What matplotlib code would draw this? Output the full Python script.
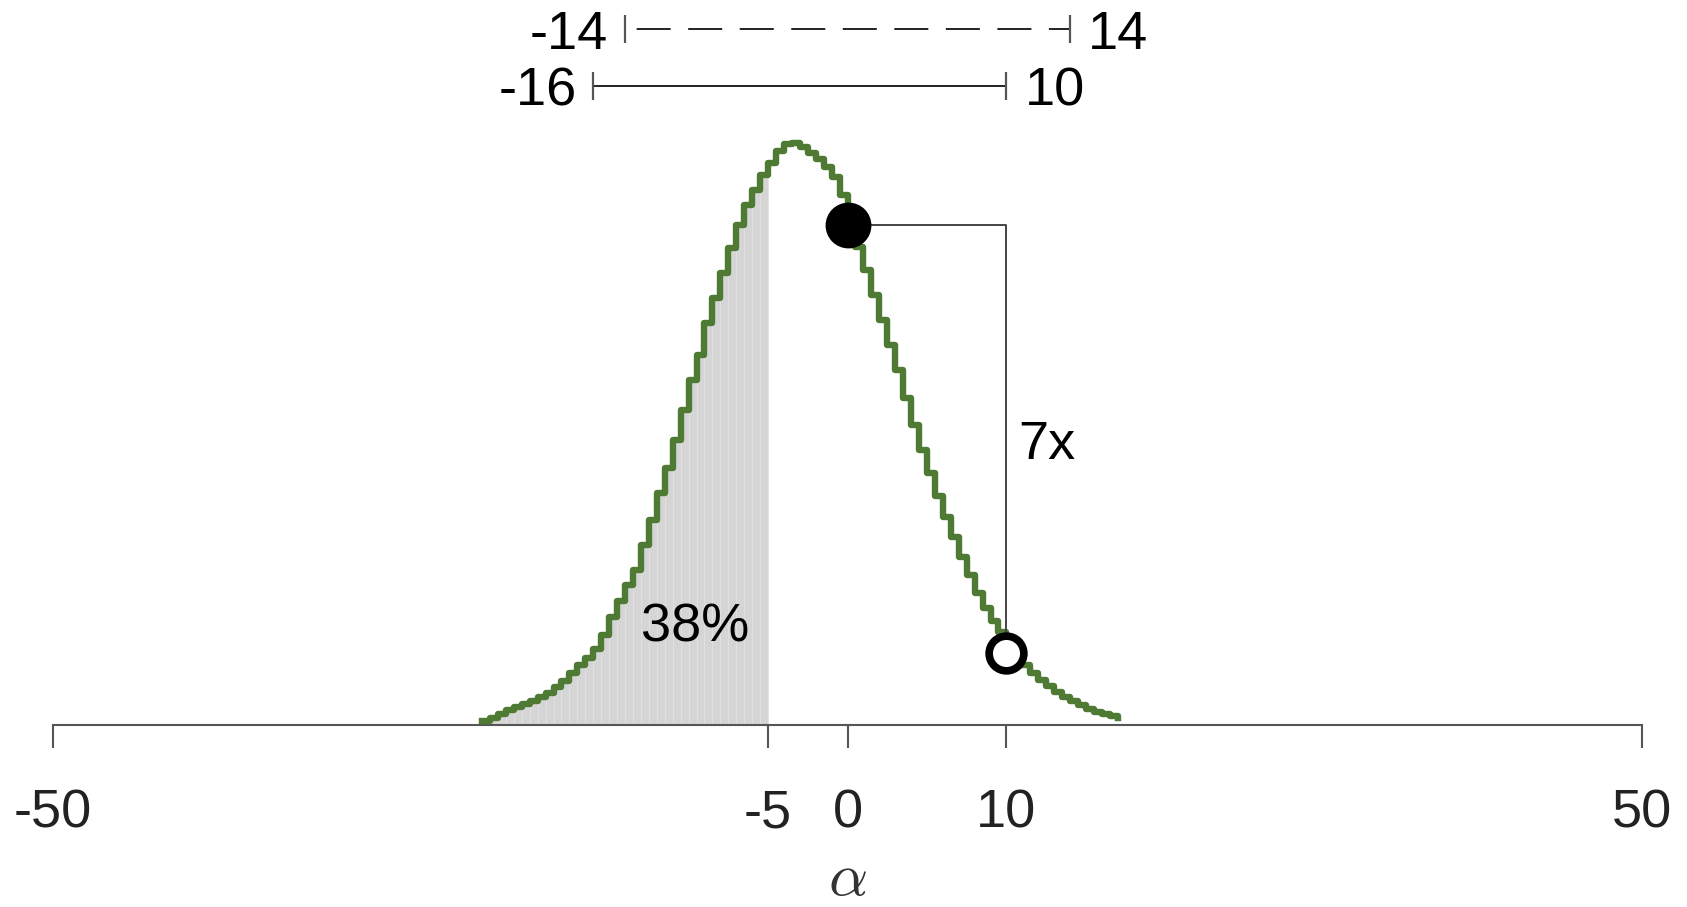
import numpy as np
import matplotlib.pyplot as plt

plt.rcParams['font.family'] = ['Liberation Sans', 'DejaVu Sans']
plt.rcParams['mathtext.fontset'] = 'cm'

# posterior of alpha, relative frequency per 0.5-wide bin (left edges)
bin_width = 0.5
bin_left = np.arange(-23, 17 + bin_width / 2, bin_width)
freq = np.array([
    4, 7, 11, 15, 18, 21, 24, 28, 32, 38,
    44, 52, 60, 67, 76, 90, 108, 124, 140, 155,
    180, 205, 232, 257, 285, 315, 345, 370, 402, 427,
    452, 477, 500, 520, 535, 550, 562, 574, 581, 582,
    578, 572, 566, 558, 548, 530, 500, 478, 455, 430,
    405, 380, 355, 327, 300, 275, 252, 229, 208, 188,
    168, 150, 132, 117, 104, 93, 80, 68, 60, 52,
    45, 39, 33, 28, 24, 20, 16, 13, 11, 9, 7,
], dtype=float)

cutoff = -5
# two reference points: alpha = 0 (filled) and alpha = 10 (open)
pt_x = [0, 10]
pt_freq = [500, 72]

# credible intervals shown above the curve
ci_dashed = (-14, 14)
ci_solid = (-16, 10)

xticks = [-50, -5, 0, 10, 50]

# turn frequencies into a density
scale = 1.0 / (freq.sum() * bin_width)
dens = freq * scale
pt_dens = [v * scale for v in pt_freq]

green = '#4f7a34'
shade = '#d5d5d5'
axis_col = '#555555'

fig = plt.figure(figsize=(16.87, 9.07), dpi=100)
ax = fig.add_axes([53 / 1687, 182 / 907, (1642 - 53) / 1687, 725 / 907])

# shaded mass left of the cutoff
left = bin_left < cutoff
ax.bar(bin_left[left], dens[left], width=bin_width, align='edge',
       color=shade, edgecolor='#e1e1e1', linewidth=0.6, zorder=1)
share = 100 * freq[left].sum() / freq.sum()

ax.step(bin_left, dens, where='post', color=green, lw=4.6, zorder=3)

# bracket between the two points
ax.plot([pt_x[0], pt_x[1], pt_x[1]], [pt_dens[0], pt_dens[0], pt_dens[1]],
        color='#444444', lw=1.4, zorder=4)
ax.plot(pt_x[0], pt_dens[0], 'o', ms=33, color='black', mew=0, zorder=5)
ax.plot(pt_x[1], pt_dens[1], 'o', ms=25, mfc='white', mec='black', mew=5.5, zorder=5)
ax.text(pt_x[1] + 0.75, (pt_dens[0] + pt_dens[1]) / 2,
        f'{round(pt_freq[0] / pt_freq[1])}x', fontsize=39, ha='left',
        va='center_baseline')

ax.text(-9.6, 103 * scale, f'{share:.0f}%', fontsize=39, ha='center',
        va='center_baseline')

# intervals drawn in the top margin
trans = ax.get_xaxis_transform()
cap = 14 / 725
for (lo, hi), yy, ls in [(ci_dashed, 696 / 725, (-6, (17.5, 9))),
                         (ci_solid, 639 / 725, '-')]:
    ax.plot([lo, hi], [yy, yy], transform=trans, color='#222222', lw=1.4,
            linestyle=ls, clip_on=False)
    ax.vlines([lo, hi], yy - cap, yy + cap, transform=trans, color='#555555',
              lw=1.6, clip_on=False)
    ax.annotate(str(lo), xy=(lo, yy), xycoords=trans, xytext=(-12, -4),
                textcoords='offset points', ha='right', va='center', fontsize=39)
    ax.annotate(str(hi), xy=(hi, yy), xycoords=trans, xytext=(13, -4),
                textcoords='offset points', ha='left', va='center', fontsize=39)

ax.set_xlim(-50, 50)
ax.set_ylim(0, 725 * scale)
for side in ['top', 'left', 'right']:
    ax.spines[side].set_visible(False)
ax.spines['bottom'].set_color(axis_col)
ax.spines['bottom'].set_linewidth(1.5)
ax.set_yticks([])
ax.set_xticks(xticks)
ax.set_xticklabels([str(t) for t in xticks])
ax.tick_params(axis='x', length=16.5, width=1.5, color=axis_col,
               labelsize=39, labelcolor='#222222', pad=29)
ax.set_xlabel(r'$\alpha$', fontsize=44, color='#333333', labelpad=9)

fig.savefig('out.png', dpi=100)
